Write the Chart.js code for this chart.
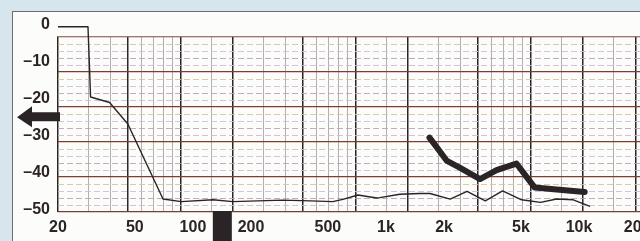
<!DOCTYPE html>
<html>
<head>
<meta charset="utf-8">
<script src="https://cdn.jsdelivr.net/npm/chart.js@4.4.1/dist/chart.umd.min.js"></script>
<style>
  html, body { margin: 0; padding: 0; }
  body { width: 640px; height: 241px; background: #d7e5ec; position: relative; overflow: hidden; }
  #panel { position: absolute; left: 12px; top: 11px; width: 640px; height: 240px;
           background: #fcfcfa; border-left: 1px solid #6e6e70; border-top: 1px solid #6e6e70; }
  #responseChart { position: absolute; left: 0; top: 0; }
</style>
</head>
<body>
<div id="panel"></div>
<canvas id="responseChart" width="640" height="241"></canvas>
<script>
// thin trace
var thinFreq = [20, 28.6, 29.5, 37, 46, 70, 87, 127, 161, 292, 406, 530, 598, 716, 896, 930, 1180, 1500, 1690, 2150, 2630, 3270, 4020, 5040, 6320, 7660, 9340, 11400];
var thinDb = [-0.5, -0.5, -19.5, -21, -26.8, -47.1, -47.8, -47.3, -47.8, -47.4, -47.6, -47.8, -47.2, -46, -46.8, -46.7, -45.8, -45.6, -45.6, -47.1, -45.0, -47.6, -44.9, -47.3, -48, -47.1, -47.3, -49.1];

// thick trace
var thickFreq = [1680, 1790, 2070, 2410, 3070, 3740, 4740, 5900, 7660, 10700];
var thickDb = [-30.5, -32.4, -36.8, -38.6, -41.7, -39.3, -37.5, -44, -44.5, -45.2];

// axis labels
var xTicks = [20, 50, 100, 200, 500, 1000, 2000, 5000, 10000, 20000];
var yTicks = [0, -10, -20, -30, -40, -50];

// chart paper grid (log paper, its own decades)
var paperMajor = [20, 50, 100, 200, 500, 1000, 2000, 5000, 10000, 20000, 40000];
var paperMinor = [30, 40, 60, 70, 80, 90, 150, 300, 400, 600, 700, 800, 900, 1500, 3000, 4000, 6000, 7000, 8000, 9000, 15000, 30000];

// arrow markers
var arrowLevel = -25;
var arrowFreq = 142;

var paper = '#fcfcfa';
var ink = '#2b2426';
var labelFont = { family: "'Liberation Sans', Arial, sans-serif", size: 16, weight: 'bold' };

function toPts(fs, ds) {
  return fs.map(function (f, i) { return { x: f, y: ds[i] }; });
}
function setTicks(list) {
  return function (scale) { scale.ticks = list.map(function (v) { return { value: v }; }); };
}

var paperPlugin = {
  id: 'paperTop',
  beforeDatasetsDraw: function (chart) {
    var a = chart.chartArea, c = chart.ctx;
    var yTop = chart.scales.y2.getPixelForValue(25);
    c.save();
    c.fillStyle = paper;
    c.fillRect(a.left - 2, a.top, a.right - a.left + 2, yTop - a.top - 0.7);
    c.restore();
  },
  afterDraw: function (chart) {
    var c = chart.ctx, a = chart.chartArea;
    var yA = chart.scales.y.getPixelForValue(arrowLevel);
    var xA = chart.scales.x.getPixelForValue(arrowFreq);
    c.save();
    c.fillStyle = ink;
    // left arrow
    c.beginPath();
    c.moveTo(17, yA);
    c.lineTo(32, yA - 11);
    c.lineTo(32, yA - 5);
    c.lineTo(60, yA - 5);
    c.lineTo(60, yA + 4);
    c.lineTo(32, yA + 4);
    c.lineTo(32, yA + 10);
    c.closePath();
    c.fill();
    // bottom arrow shaft
    c.fillRect(xA - 9.5, a.bottom - 1, 19, chart.height - a.bottom + 1);
    c.restore();
  }
};

var ctx = document.getElementById('responseChart');
var responseChart = new Chart(ctx, {
  type: 'line',
  data: {
    datasets: [
      {
        data: toPts(thinFreq, thinDb),
        borderColor: ink,
        borderWidth: 1.4,
        pointRadius: 0,
        tension: 0,
        borderJoinStyle: 'round',
        clip: false
      },
      {
        data: toPts(thickFreq, thickDb),
        borderColor: ink,
        borderWidth: 6,
        pointRadius: 0,
        tension: 0,
        borderJoinStyle: 'round',
        borderCapStyle: 'round'
      }
    ]
  },
  options: {
    responsive: false,
    animation: false,
    layout: { padding: { top: 23, left: 0, right: 0, bottom: 0 } },
    plugins: { legend: { display: false }, tooltip: { enabled: false } },
    scales: {
      x: {
        type: 'logarithmic', position: 'bottom', min: 20, max: 20700,
        afterBuildTicks: setTicks(xTicks),
        afterFit: function (s) { s.height = 29; s.paddingLeft = 0; s.paddingRight = 0; },
        grid: { display: false, drawTicks: false },
        border: { display: false },
        ticks: {
          color: ink, font: labelFont, padding: 6, maxRotation: 0, autoSkip: false,
          callback: function (v) { return v >= 1000 ? (v / 1000) + 'k' : String(v); }
        }
      },
      x2: {
        type: 'logarithmic', position: 'top', min: 20, max: 42340,
        afterBuildTicks: setTicks(paperMajor.concat(paperMinor)),
        afterFit: function (s) { s.height = 0; s.paddingLeft = 0; s.paddingRight = 0; },
        ticks: { display: false },
        border: { display: false },
        grid: {
          drawTicks: false,
          color: function (c) { return paperMajor.indexOf(c.tick.value) >= 0 ? '#2a2527' : '#aaa6a8'; },
          lineWidth: function (c) { return paperMajor.indexOf(c.tick.value) >= 0 ? 1.5 : 0.9; }
        }
      },
      y: {
        type: 'linear', position: 'left', min: -50.6, max: 0.5,
        afterBuildTicks: setTicks(yTicks),
        afterFit: function (s) { s.width = 58; s.paddingTop = 0; s.paddingBottom = 0; },
        grid: { display: false, drawTicks: false },
        border: { display: false },
        ticks: {
          color: ink, font: labelFont, padding: 8,
          callback: function (v) { return v < 0 ? '\u2013' + Math.abs(v) : String(v); }
        }
      },
      y3: {
        type: 'linear', position: 'right', min: 0, max: 189 / 7,
        afterBuildTicks: setTicks([1, 2, 3, 4, 6, 7, 8, 9, 11, 12, 13, 14, 16, 17, 18, 19, 21, 22, 23, 24]),
        afterFit: function (s) { s.width = 0; },
        ticks: { display: false },
        border: { display: false, dash: [6, 3] },
        grid: {
          drawTicks: false,
          lineWidth: 0.9,
          color: function (c) { return ['#d8cc9e', '#cdbccb', '#bfa2b4', '#c4c5d2', '#d6c49e'][c.tick.value % 5]; }
        }
      },
      y2: {
        type: 'linear', position: 'right', min: 0, max: 189 / 7,
        afterBuildTicks: setTicks([0, 5, 10, 15, 20, 25]),
        afterFit: function (s) { s.width = 0; },
        ticks: { display: false },
        border: { display: false },
        grid: { drawTicks: false, color: '#7c3d33', lineWidth: 1.3 }
      }
    }
  },
  plugins: [paperPlugin]
});
</script>
</body>
</html>
